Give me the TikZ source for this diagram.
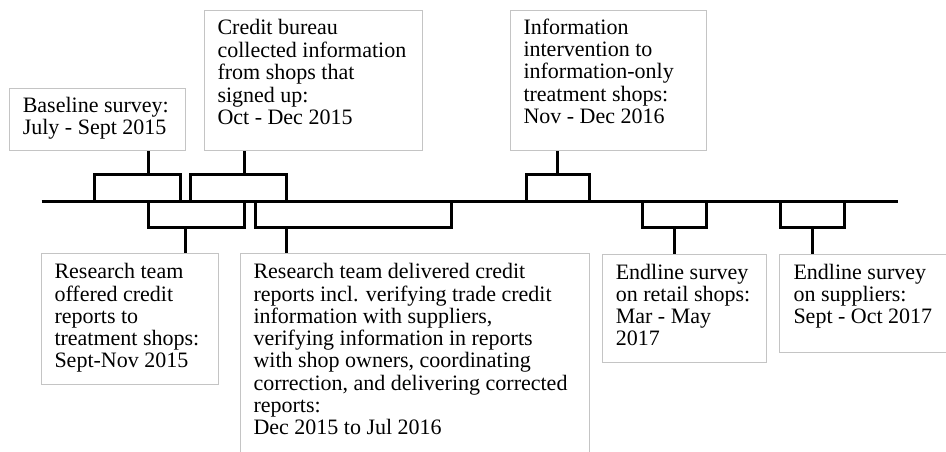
\documentclass[tikz,border=0pt]{standalone}
\usepackage{fontspec}
\setmainfont{Liberation Serif}
\begin{document}
\begin{tikzpicture}[x=1pt,y=-1pt,
  frame/.style={draw=boxgray, line width=1.1pt, rectangle, inner sep=0pt, anchor=north west},
  lbl/.style={anchor=north west, align=left, inner sep=0pt, font=\fontsize{22}{22.1}\selectfont},
  tl/.style={line width=3pt, draw=black, line join=miter}]
\definecolor{boxgray}{RGB}{196,196,196}
\useasboundingbox (0,0) rectangle (946,451);
\clip (0,0) rectangle (946,451);
% boxes
\node[frame, minimum width=175.7pt, minimum height=62.3pt] (box1) at (9.3,87.7) {};
\node[frame, minimum width=217.7pt, minimum height=140pt] (box2) at (204,10) {};
\node[frame, minimum width=195.7pt, minimum height=140pt] (box3) at (510,10) {};
\node[frame, minimum width=177.3pt, minimum height=130.7pt] (box4) at (41,253.3) {};
\node[frame, minimum width=349.3pt, minimum height=220pt] (box5) at (240,253.3) {};
\node[frame, minimum width=163.7pt, minimum height=108pt] (box6) at (602.3,254.3) {};
\node[frame, minimum width=190pt, minimum height=98.3pt] (box7) at (779.3,254) {};
% texts
\node[lbl] (t1) at ([shift={(13.3,9.1)}]box1.north west) {\strut Baseline survey:\\July - Sept 2015};
\node[lbl] (t2) at ([shift={(13.3,9.1)}]box2.north west) {\strut Credit bureau\\collected information\\from shops that\\signed up:\\Oct - Dec 2015};
\node[lbl] (t3) at ([shift={(13.3,9.1)}]box3.north west) {\strut Information\\intervention to\\information-only\\treatment shops:\\Nov - Dec 2016};
\node[lbl] (t4) at ([shift={(13.3,9.6)}]box4.north west) {\strut Research team\\offered credit\\reports to\\treatment shops:\\Sept-Nov 2015};
\node[lbl] (t5) at ([shift={(13.3,9.6)}]box5.north west) {\strut Research team delivered credit\\reports incl. verifying trade credit\\information with suppliers,\\verifying information in reports\\with shop owners, coordinating\\correction, and delivering corrected\\reports:\\Dec 2015 to Jul 2016};
\node[lbl] (t6) at ([shift={(13.3,9.6)}]box6.north west) {\strut Endline survey\\on retail shops:\\Mar - May\\2017};
\node[lbl] (t7) at ([shift={(14,9.6)}]box7.north west) {\strut Endline survey\\on suppliers:\\Sept - Oct 2017};
% main timeline
\coordinate (tlstart) at (41.7,201);
\coordinate (tlend) at (898.3,201);
\draw[tl] (tlstart) -- (tlend);
% bracket coordinates (stem points)
\coordinate (k1) at (148.3,174.5);
\coordinate (k2) at (244.3,174.5);
\coordinate (k3) at (557.7,174.5);
\coordinate (k4) at (185.5,227.5);
\coordinate (k5) at (286,227.5);
\coordinate (k6) at (674,227.5);
\coordinate (k7) at (812.3,227.5);
% top brackets
\draw[tl] (94.3,201) |- (180,174.5) -- (180,201);
\draw[tl] (190.7,201) |- (286.3,174.5) -- (286.3,201);
\draw[tl] (526,201) |- (589,174.5) -- (589,201);
% bottom brackets
\draw[tl] (148.3,201) |- (244.3,227.5) -- (244.3,201);
\draw[tl] (255.7,201) |- (451.7,227.5) -- (451.7,201);
\draw[tl] (642.7,201) |- (706,227.5) -- (706,201);
\draw[tl] (780.7,201) |- (844.3,227.5) -- (844.3,201);
% stems
\draw[tl] (box1.south -| k1) -- (k1);
\draw[tl] (box2.south -| k2) -- (k2);
\draw[tl] (box3.south -| k3) -- (k3);
\draw[tl] (k4) -- (box4.north -| k4);
\draw[tl] (k5) -- (box5.north -| k5);
\draw[tl] (k6) -- (box6.north -| k6);
\draw[tl] (k7) -- (box7.north -| k7);
\end{tikzpicture}
\end{document}
